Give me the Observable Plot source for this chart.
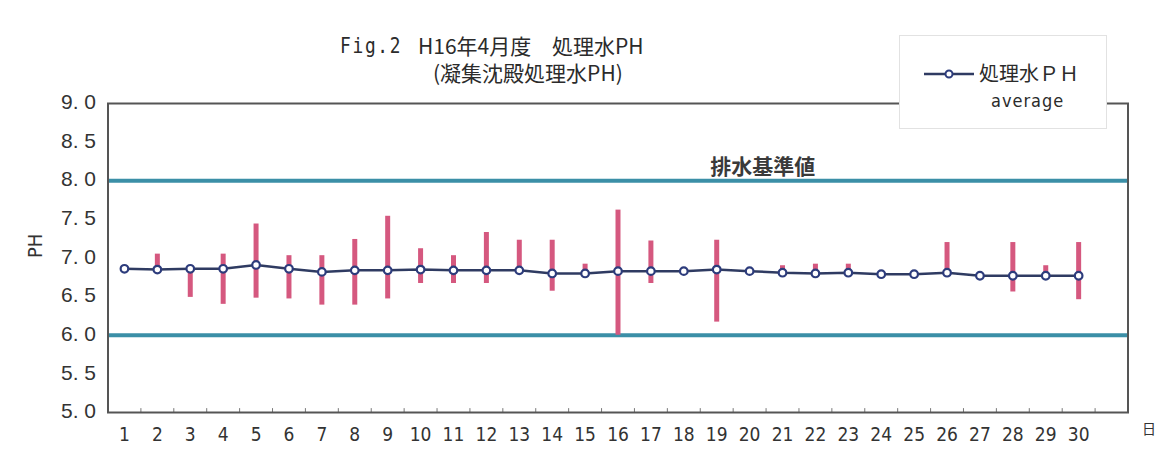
<!DOCTYPE html>
<html><head><meta charset="utf-8">
<script src="https://cdn.jsdelivr.net/npm/d3@7"></script>
<script src="https://cdn.jsdelivr.net/npm/@observablehq/plot@0.6"></script>
<style>
body{margin:0;background:#fff;}
#wrap{position:relative;width:1168px;height:466px;overflow:hidden;font-family:"Noto Sans CJK JP",sans-serif;color:#2b2b2b;}
#chart{position:absolute;left:0;top:0;}
.t{position:absolute;white-space:nowrap;line-height:1;}
#legend{position:absolute;left:899px;top:35px;width:208px;height:94px;background:#fff;border:1px solid #e2e2e2;box-sizing:border-box;}
</style></head><body>
<div id="wrap"><div id="chart"></div></div>
<script>
// ---- data ----
const days = [1,2,3,4,5,6,7,8,9,10,11,12,13,14,15,16,17,18,19,20,21,22,23,24,25,26,27,28,29,30];
const avgPH = [6.86,6.85,6.86,6.86,6.91,6.86,6.82,6.84,6.84,6.85,6.84,6.84,6.84,6.80,6.80,6.83,6.83,6.83,6.85,6.83,6.81,6.80,6.81,6.79,6.79,6.81,6.77,6.77,6.77,6.77];
const maxPH = [6.86,7.05,6.86,7.05,7.44,7.03,7.03,7.24,7.54,7.12,7.03,7.33,7.23,7.23,6.92,7.62,7.22,6.83,7.23,6.83,6.90,6.92,6.92,6.79,6.79,7.20,6.77,7.20,6.90,7.20];
const minPH = [6.86,6.85,6.49,6.40,6.48,6.47,6.39,6.39,6.47,6.67,6.67,6.67,6.84,6.57,6.80,6.00,6.67,6.83,6.17,6.83,6.81,6.80,6.81,6.79,6.79,6.81,6.77,6.56,6.77,6.46];
const standards = [8.0, 6.0];
const standardLabel = "排水基準値";
const standardLabelDay = 20.4;
const yTicks = [9.0,8.5,8.0,7.5,7.0,6.5,6.0,5.5,5.0];
const yLabel = "PH";
const xUnit = "日";
const titleFig = "Fig.2";
const titleMain = "H16年4月度";
const titleSub1 = "処理水PH";
const titleLine2 = "(凝集沈殿処理水PH)";
const legendName = "処理水ＰＨ";
const legendSub = "average";

const rows = days.map((d,i)=>({day:d, avg:avgPH[i], max:maxPH[i], min:minPH[i]}));
const boundaries = days.map(d=>d+0.5);

const numFont = "'Liberation Sans Narrow','DejaVu Sans Condensed',sans-serif";
const plot = Plot.plot({
  width:1168, height:466,
  marginTop:103, marginBottom:54, marginLeft:107.5, marginRight:40.5,
  x:{domain:[0.5,31.5], axis:null},
  y:{domain:[5,9], axis:null},
  style:{background:"transparent", overflow:"visible"},
  marks:[
    Plot.ruleY(standards, {stroke:"#3b8fa7", strokeWidth:4}),
    Plot.ruleX(boundaries, {x:d=>d, y1:5, y2:5.05, stroke:"#777", strokeWidth:1}),
    Plot.ruleX(rows, {x:"day", y1:"min", y2:"max", stroke:"#d5587f", strokeWidth:5}),
    Plot.line(rows, {x:"day", y:"avg", stroke:"#2f3b62", strokeWidth:2.5}),
    Plot.dot(rows, {x:"day", y:"avg", r:3.8, fill:"white", stroke:"#2d3c7c", strokeWidth:2.2}),
    Plot.frame({stroke:"#555", strokeWidth:2}),
    Plot.text([standardLabel], {x:standardLabelDay, y:standards[0], dy:-13, text:d=>d, fontSize:21, fontWeight:"bold", fill:"#3a3a3a", fontFamily:"'Noto Sans CJK JP',sans-serif"}),
    Plot.text(yTicks, {y:d=>d, frameAnchor:"left", dx:-12, dy:-1, textAnchor:"end", text:d=>d.toFixed(1).replace(".", ". "), fontSize:21, fill:"#333", fontFamily:"'Liberation Sans','Arial',sans-serif"}),
    Plot.text(days, {x:d=>d, frameAnchor:"bottom", dy:28, text:d=>String(d), fontSize:19, fill:"#333", fontFamily:numFont}),
    Plot.text([xUnit], {frameAnchor:"bottom-right", dx:28, dy:21, text:d=>d, fontSize:14, fill:"#333", fontFamily:"'Noto Sans CJK JP',sans-serif"}),
    Plot.text([yLabel], {frameAnchor:"left", dx:-72, rotate:-90, text:d=>d, fontSize:20, fill:"#333", fontFamily:numFont})
  ]
});
document.getElementById("chart").appendChild(plot);

const wrap = document.getElementById("wrap");
function addText(txt, left, top, css){
  const el = document.createElement("div");
  el.className = "t"; el.textContent = txt;
  el.style.left = left+"px"; el.style.top = top+"px";
  Object.assign(el.style, css||{});
  wrap.appendChild(el); return el;
}
addText(titleFig, 340, 36, {fontSize:"21px", letterSpacing:"2px", fontFamily:"'DejaVu Sans Mono',monospace", transform:"scaleX(0.85)", transformOrigin:"left"});
addText(titleMain, 418, 35, {fontSize:"21px", fontFamily:"'Noto Sans CJK JP'"});
addText(titleSub1, 552, 35, {fontSize:"21px", fontFamily:"'Noto Sans CJK JP'"});
addText(titleLine2, 433, 62, {fontSize:"21px", fontFamily:"'Noto Sans CJK JP'"});

const legend = document.createElement("div");
legend.id = "legend";
wrap.appendChild(legend);
const ls = d3.select(legend).append("svg").attr("width",208).attr("height",94).style("position","absolute").style("left","0").style("top","0");
ls.append("line").attr("x1",24).attr("x2",74).attr("y1",38).attr("y2",38).attr("stroke","#2f3b62").attr("stroke-width",2.5);
ls.append("circle").attr("cx",49).attr("cy",38).attr("r",3.5).attr("fill","white").attr("stroke","#2d3c7c").attr("stroke-width",2);
const l1 = document.createElement("div"); l1.className="t"; l1.textContent=legendName;
Object.assign(l1.style,{left:"79px",top:"27px",fontSize:"20px",fontFamily:"'Noto Sans CJK JP'"});
legend.appendChild(l1);
const l2 = document.createElement("div"); l2.className="t"; l2.textContent=legendSub;
Object.assign(l2.style,{left:"91px",top:"56px",fontSize:"18px",letterSpacing:"1px",fontFamily:numFont});
legend.appendChild(l2);
</script>
</body></html>
